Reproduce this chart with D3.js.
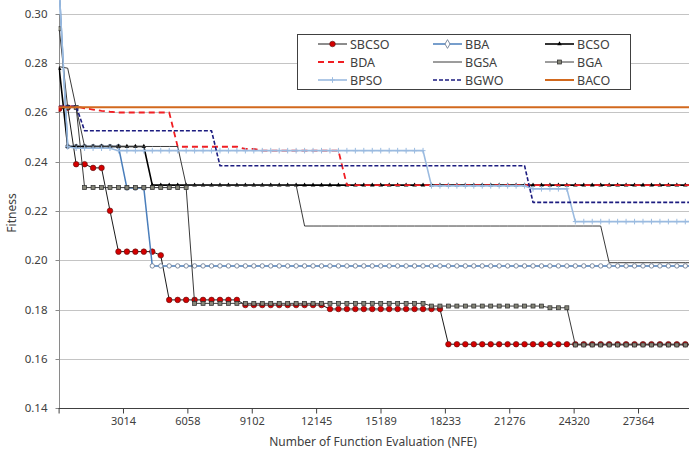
<!DOCTYPE html>
<html>
<head>
<meta charset="utf-8">
<script src="https://cdn.jsdelivr.net/npm/d3@7"></script>
<style>
  body { margin: 0; background: #fff; }
  text { font-family: "Noto Sans", sans-serif; fill: #404040; }
</style>
</head>
<body>
<svg id="chart" width="689" height="455"></svg>
<script>
// fitness curves, sampled every nfeStep evaluations, stored as runs of [fitness, samples]
var nfeStep = 400;
var xTicks = [3014, 6058, 9102, 12145, 15189, 18233, 21276, 24320, 27364];
var yTicks = [0.14, 0.16, 0.18, 0.20, 0.22, 0.24, 0.26, 0.28, 0.30];

var sbcso = [[0.2615,1],[0.262,1],[0.239,2],[0.2375,2],[0.2201,1],[0.2035,5],[0.202,1],[0.1839,9],[0.1818,10],[0.1802,14],[0.1659,30]];
var bba   = [[0.31,1],[0.2462,7],[0.2293,3],[0.1977,65]];
var bcso  = [[0.2778,1],[0.2462,10],[0.2305,65]];
var bda   = [[0.2625,3],[0.2617,1],[0.2612,1],[0.2607,1],[0.2603,1],[0.2600,7],[0.2461,8],[0.2452,2],[0.2445,10],[0.2305,42]];
var bgsa  = [[0.2786,1],[0.278,1],[0.262,1],[0.2462,12],[0.2305,14],[0.2139,36],[0.199,11]];
var bga   = [[0.294,1],[0.262,2],[0.2295,13],[0.1825,28],[0.1814,14],[0.1807,3],[0.1656,15]];
var bpso  = [[0.31,1],[0.2461,1],[0.2455,5],[0.2445,37],[0.2302,12],[0.229,5],[0.2157,15]];
var bgwo  = [[0.2625,3],[0.2526,16],[0.2384,37],[0.2235,20]];
var baco  = [[0.2621,76]];

var names = ["SBCSO", "BBA", "BCSO", "BDA", "BGSA", "BGA", "BPSO", "BGWO", "BACO"];
var runs  = [sbcso, bba, bcso, bda, bgsa, bga, bpso, bgwo, baco];

var styles = {
  SBCSO: {stroke: "#1a1a1a", width: 1,   marker: "circle"},
  BBA:   {stroke: "#4a7ebb", width: 1.5, marker: "ring"},
  BCSO:  {stroke: "#000",    width: 1.6, marker: "triangle"},
  BDA:   {stroke: "#f01e23", width: 1.8, dash: "6,4"},
  BGSA:  {stroke: "#3a3a3a", width: 1},
  BGA:   {stroke: "#3a3a3a", width: 1,   marker: "square"},
  BPSO:  {stroke: "#9bbbe0", width: 1.6, marker: "plus"},
  BGWO:  {stroke: "#1c1c80", width: 1.6, dash: "4,2"},
  BACO:  {stroke: "#d2691e", width: 2}
};

function expand(r) {
  var out = [];
  r.forEach(function(d){ for (var k = 0; k < d[1]; k++) out.push(d[0]); });
  return out.map(function(v, i){ return [i * nfeStep, v]; });
}

var svg = d3.select("#chart");
var x = d3.scaleLinear().domain([-30, 30408]).range([58.6, 702.4]);
var y = d3.scaleLinear().domain([0.14, 0.30]).range([408, 14]);

svg.append("rect").attr("width", 689).attr("height", 455).attr("fill", "#fff");

// grid
svg.append("g").selectAll("line").data(yTicks.slice(1)).enter().append("line")
  .attr("x1", x(-30)).attr("x2", 689)
  .attr("y1", function(d){ return Math.round(y(d)) + 0.5; })
  .attr("y2", function(d){ return Math.round(y(d)) + 0.5; })
  .attr("stroke", "#c4c4c4").attr("stroke-width", 1);

// y axis
var ya = svg.append("g").attr("transform", "translate(" + (Math.round(x(-30)) + 0.5) + ",0)")
  .call(d3.axisLeft(y).tickValues(yTicks).tickFormat(d3.format(".2f")).tickSize(4).tickPadding(8));
ya.select(".domain").attr("stroke", "#8a8a8a").attr("d", "M-0,14V408");
ya.selectAll(".tick line").attr("stroke", "#8a8a8a");
ya.selectAll(".tick text").style("font-size", "11.5px").attr("fill", "#404040");
ya.selectAll(".tick").attr("transform", function(d){ return "translate(0," + (Math.round(y(d)) + 0.5) + ")"; });

// x axis
var xa = svg.append("g").attr("transform", "translate(0," + (Math.round(y(0.14)) + 0.5) + ")")
  .call(d3.axisBottom(x).tickValues([-30].concat(xTicks))
    .tickFormat(function(d){ return d < 0 ? "" : d; }).tickSize(5).tickSizeOuter(0).tickPadding(4));
xa.select(".domain").attr("stroke", "#404040").attr("d", "M58.6,0H689");
xa.selectAll(".tick line").attr("stroke", "#404040");
xa.selectAll(".tick text").style("font-size", "11px").attr("fill", "#404040");

svg.append("text").attr("x", 373).attr("y", 446).attr("text-anchor", "middle")
  .style("font-size", "12px").text("Number of Function Evaluation (NFE)");
svg.append("text").attr("transform", "translate(16,213) rotate(-90)").attr("text-anchor", "middle")
  .style("font-size", "12px").text("Fitness");

// series
svg.append("clipPath").attr("id", "plot").append("rect")
  .attr("x", 58.6).attr("y", 0).attr("width", 640).attr("height", 408);
var plot = svg.append("g").attr("clip-path", "url(#plot)");
var line = d3.line().x(function(d){ return x(d[0]); }).y(function(d){ return y(d[1]); });

function drawMarker(sel, kind) {
  if (kind === "circle") {
    sel.append("circle").attr("r", 2.8).attr("fill", "#d40000").attr("stroke", "#5a1010").attr("stroke-width", 0.6);
  } else if (kind === "ring") {
    sel.append("circle").attr("r", 2.2).attr("fill", "#fff").attr("stroke", "#6f7f96").attr("stroke-width", 0.9);
  } else if (kind === "diamond") {
    sel.append("path").attr("d", d3.symbol(d3.symbolDiamond, 22)()).attr("fill", "#fff").attr("stroke", "#6f7f96").attr("stroke-width", 0.9);
  } else if (kind === "triangle") {
    sel.append("path").attr("d", d3.symbol(d3.symbolTriangle, 9)()).attr("fill", "#000");
  } else if (kind === "square") {
    sel.append("rect").attr("x", -2).attr("y", -2).attr("width", 4).attr("height", 4)
      .attr("fill", "#858578").attr("stroke", "#2a2a2a").attr("stroke-width", 0.7);
  } else if (kind === "plus") {
    sel.append("path").attr("d", "M-2.5,0H2.5M0,-2.8V2.8").attr("stroke", "#9bbbe0").attr("stroke-width", 1);
  }
}

names.forEach(function(name, k) {
  var st = styles[name], pts = expand(runs[k]);
  plot.append("path").datum(pts).attr("d", line).attr("fill", "none")
    .attr("stroke", st.stroke).attr("stroke-width", st.width)
    .attr("stroke-dasharray", st.dash || null).attr("stroke-linejoin", "round");
  if (st.marker) {
    plot.append("g").selectAll("g").data(pts).enter().append("g")
      .attr("transform", function(d){ return "translate(" + x(d[0]) + "," + y(d[1]) + ")"; })
      .each(function(){ drawMarker(d3.select(this), st.marker); });
  }
});

// legend
var lg = svg.append("g");
lg.append("rect").attr("x", 297.5).attr("y", 34.5).attr("width", 333).attr("height", 55)
  .attr("fill", "#fff").attr("stroke", "#404040").attr("stroke-width", 1);
var colX = [318, 433, 545], rowY = [44, 62, 80];
names.forEach(function(name, k) {
  var st = styles[name], cx = colX[k % 3], cy = rowY[Math.floor(k / 3)];
  var g = lg.append("g").attr("transform", "translate(" + cx + "," + cy + ")");
  g.append("line").attr("x1", 0).attr("x2", 29).attr("stroke", st.stroke)
    .attr("stroke-width", st.width).attr("stroke-dasharray", st.dash || null);
  if (st.marker) {
    var m = g.append("g").attr("transform", "translate(14.5,0)");
    drawMarker(m, st.marker === "ring" ? "diamond" : st.marker);
  }
  g.append("text").attr("x", 32).attr("y", 4.5).style("font-size", "12.5px").text(name);
});
</script>
</body>
</html>
